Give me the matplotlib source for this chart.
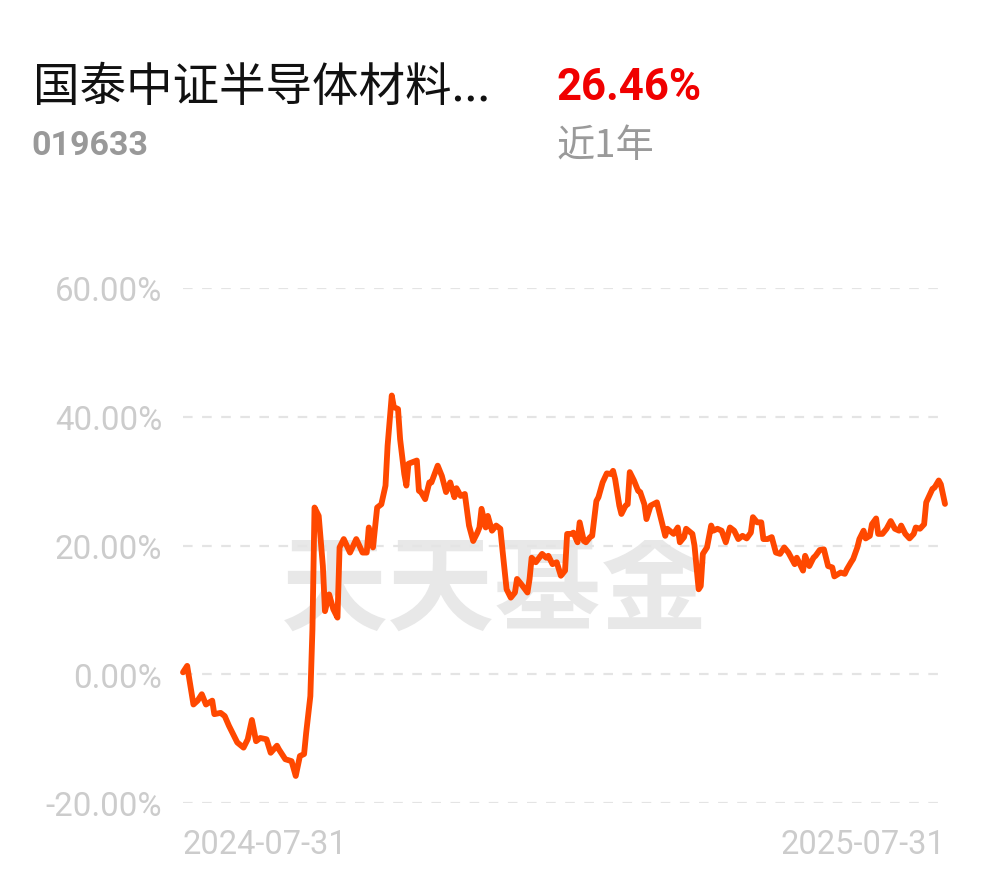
import matplotlib
matplotlib.use("Agg")
import matplotlib.pyplot as plt
import numpy as np
import pandas as pd
from matplotlib.patches import Rectangle

# ---------------- data ----------------
start_date = "2024-07-31"
end_date = "2025-07-31"
day_offsets = [0, 2, 5, 7, 9, 11, 14, 15, 18, 20, 22, 26, 29, 31, 33, 35, 37, 40, 42, 45,
               46, 49, 52, 54, 56, 58, 59, 61, 62, 63, 65, 67, 68, 70, 72, 74, 75, 77, 80, 83,
               86, 88, 89, 91, 93, 95, 97, 98, 100, 101, 103, 104, 106, 107, 108, 112, 113, 114, 116, 118,
               119, 122, 124, 126, 128, 130, 131, 133, 135, 137, 139, 141, 142, 143, 145, 146, 148, 150, 152, 153,
               155, 157, 159, 160, 162, 165, 166, 167, 169, 172, 174, 175, 177, 179, 181, 183, 184, 186, 187, 189,
               190, 192, 193, 195, 196, 198, 199, 201, 203, 205, 206, 207, 209, 210, 212, 213, 214, 216, 218, 219,
               221, 222, 224, 227, 229, 231, 232, 235, 237, 238, 240, 241, 244, 245, 247, 248, 249, 251, 253, 254,
               256, 258, 260, 262, 264, 266, 268, 270, 272, 273, 275, 277, 278, 280, 282, 284, 286, 288, 290, 293,
               294, 297, 298, 300, 302, 303, 305, 307, 309, 311, 312, 315, 317, 318, 320, 321, 323, 324, 326, 327,
               329, 330, 332, 333, 335, 337, 339, 341, 343, 344, 346, 348, 350, 351, 353, 355, 356, 359, 360, 362,
               363, 365]
returns_pct = [0.3, 1.3, -4.7, -4.1, -3.1, -4.7, -4.1, -6.2, -6.0, -6.5, -8.0, -10.6, -11.4, -10.1, -7.1, -10.4, -9.9, -10.1, -12.2, -11.1,
               -11.7, -13.2, -13.5, -15.8, -12.7, -12.4, -9.1, -3.4, 7.0, 25.9, 24.6, 16.8, 9.8, 12.4, 10.1, 8.8, 19.7, 21.0, 18.9, 21.0,
               18.9, 18.9, 22.8, 19.7, 25.9, 26.4, 29.3, 35.5, 43.3, 41.5, 41.2, 36.5, 31.1, 29.3, 32.7, 33.2, 28.5, 28.3, 27.2, 29.8,
               29.8, 32.4, 30.8, 28.3, 29.8, 27.5, 28.9, 27.7, 28.0, 23.1, 20.7, 22.0, 22.8, 25.7, 22.8, 24.6, 22.3, 23.1, 22.6, 19.4,
               13.2, 11.9, 12.7, 14.8, 14.0, 12.7, 14.8, 18.1, 17.4, 18.7, 18.1, 18.4, 17.1, 17.4, 15.3, 16.1, 21.8, 21.8, 22.0, 20.5,
               23.6, 20.7, 20.5, 21.3, 21.5, 26.9, 27.5, 29.8, 31.2, 31.1, 31.6, 30.3, 26.2, 24.9, 26.2, 26.4, 31.4, 30.1, 28.5, 28.3,
               26.4, 24.1, 26.2, 26.7, 24.1, 21.5, 22.6, 21.8, 22.8, 20.5, 21.3, 22.6, 21.8, 20.0, 13.2, 13.7, 18.7, 19.7, 23.1, 22.3,
               22.6, 22.3, 20.5, 22.8, 22.3, 21.0, 21.5, 21.1, 22.0, 24.4, 23.6, 23.6, 21.0, 21.0, 21.3, 18.9, 18.7, 19.7, 18.9, 17.1,
               18.1, 16.1, 18.4, 16.8, 18.1, 18.4, 19.3, 19.4, 16.8, 16.6, 15.2, 15.8, 15.6, 16.3, 17.4, 17.9, 19.7, 21.0, 22.3, 21.1,
               21.5, 23.3, 24.2, 21.8, 21.8, 22.6, 23.8, 22.6, 22.3, 23.1, 21.8, 21.1, 21.8, 22.8, 22.6, 23.3, 26.7, 28.8, 29.0, 30.1,
               29.5, 26.46]
y_ticks = [-20, 0, 20, 40, 60]
y_tick_labels = ["-20.00%", "0.00%", "20.00%", "40.00%", "60.00%"]
x_tick_labels = ["2024-07-31", "2025-07-31"]
fund_name = "国泰中证半导体材料..."
fund_code = "019633"
period_return = "26.46%"
period_label = "近1年"
watermark = "天天基金"

dates = pd.Timestamp(start_date) + pd.to_timedelta(day_offsets, unit="D")

# ---------------- figure ----------------
W, H = 990, 878
fig = plt.figure(figsize=(W / 100, H / 100), dpi=100)
fig.patch.set_facecolor("white")

def fx(px):
    return px / W

def fy(py):
    return 1 - py / H

ax = fig.add_axes([fx(183), fy(804), fx(945) - fx(183), fy(289) - fy(804)])
ax.set_facecolor("none")
ax.set_xlim(pd.Timestamp(start_date), pd.Timestamp(end_date))
ax.set_ylim(-20, 60)

for s in ax.spines.values():
    s.set_visible(False)

for yv in y_ticks:
    ax.axhline(yv, color="#e4e4e4", lw=1.6, dashes=(4.3, 4.3), zorder=1)

ax.set_yticks(y_ticks)
ax.set_yticklabels(y_tick_labels, family="Roboto", fontsize=23.8, color="#cccccc")
ax.tick_params(axis="y", length=0, pad=15)

ax.set_xticks([pd.Timestamp(start_date), pd.Timestamp(end_date)])
ax.set_xticklabels(x_tick_labels, family="Roboto", fontsize=23.5, color="#cccccc")
ax.tick_params(axis="x", length=0, pad=18)
xl = ax.get_xticklabels()
xl[0].set_ha("left")
xl[1].set_ha("right")

# watermark (behind the line)
wm = ax.text(fx(495), fy(590), watermark, transform=fig.transFigure,
             family=["Noto Sans CJK SC", "DejaVu Sans"],
             fontsize=77, fontweight="bold", color="#e8e8e8", ha="center", va="center", zorder=0.5)
clip = Rectangle((0, 0), W, H - 541, transform=None)
wm.set_clip_path(clip)
wm.set_clip_on(True)

ax.plot(dates, returns_pct, color="#ff4800", lw=4.2, solid_joinstyle="round",
        solid_capstyle="round", zorder=3, clip_on=False)

# header texts
fig.text(fx(33), fy(88), fund_name, family=["Noto Sans CJK SC", "DejaVu Sans"],
         fontsize=33.5, color="#111111", ha="left", va="center")
fig.text(fx(556), fy(88), period_return, family=["Roboto", "DejaVu Sans"],
         fontsize=31.5, fontweight="bold", color="#f00000", ha="left", va="center")
fig.text(fx(31), fy(146), fund_code, family=["Roboto", "DejaVu Sans"],
         fontsize=24.5, fontweight="bold", color="#999999", ha="left", va="center")
fig.text(fx(557), fy(147), period_label, family=["Noto Sans CJK SC", "DejaVu Sans"],
         fontsize=27.5, color="#9a9a9a", ha="left", va="center")

fig.savefig("out.png", dpi=100, facecolor="white")
